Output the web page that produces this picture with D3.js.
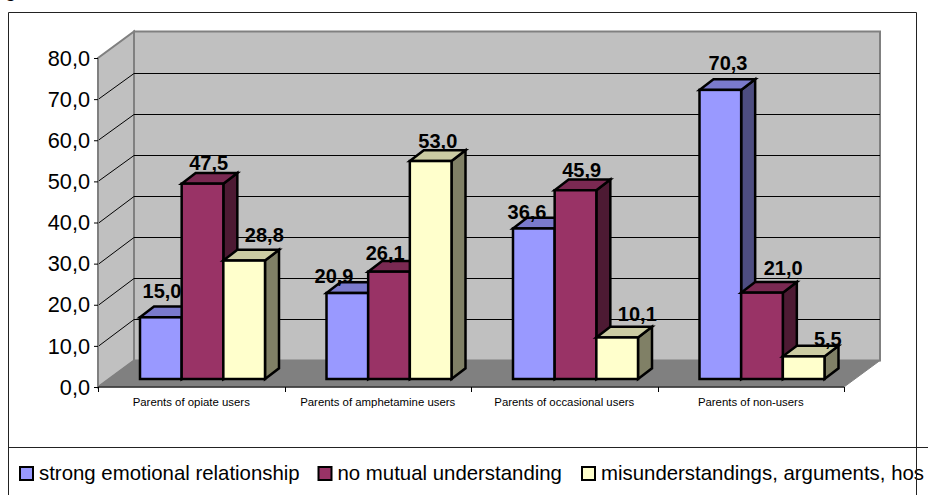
<!DOCTYPE html>
<html><head><meta charset="utf-8">
<script src="https://cdn.jsdelivr.net/npm/d3@7"></script>
<style>html,body{margin:0;background:#fff;overflow:hidden}svg{display:block}text{font-family:"Liberation Sans",Arial,sans-serif;fill:#000}</style>
</head><body><div id="c"></div>
<script>
const categories = ["Parents of opiate users","Parents of amphetamine users","Parents of occasional users","Parents of non-users"];
const seriesNames = ["strong emotional relationship","no mutual understanding","misunderstandings, arguments, hos"];
const strong = [15.0,20.9,36.6,70.3];
const noMutual = [47.5,26.1,45.9,21.0];
const misunderstandings = [28.8,53.0,10.1,5.5];
const yTicks = [0,10,20,30,40,50,60,70,80];
const labelShift = [[-6,-20.5,-14,0.5],[-1,-11,-1,14],[13,0,13,17]];
const labelRise = [[27.3,18,17.5,27.9],[21.7,19.7,21.2,25.6],[26.6,21,24.5,18.4]];

const W=928,H=495;
const svg=d3.select("#c").append("svg").attr("width",W).attr("height",H);
const x0=98,x1=844,yB=387,yT=58,dx=36,dy=-26.5,bdx=14,bdy=-10.7,bFront=-8;
const x=d3.scaleBand().domain(categories).range([x0,x1]);
const y=d3.scaleLinear().domain([0,80]).range([yB,yT]);
const seriesKeys=d3.range(3);
const inner=d3.scaleBand().domain(seriesKeys).range([42,42+125]);
const values=[strong,noMutual,misunderstandings];
const colors=[{f:"#9999ff",t:"#7a7acc",s:"#4d4d80"},{f:"#993366",t:"#7a2952",s:"#4d1a33"},{f:"#ffffcc",t:"#cccca3",s:"#808066"}];
const fmt=v=>v.toFixed(1).replace(".",",");

// fragment of a glyph above the chart frame, as in the reference
svg.append("text").attr("x",5).attr("y",-3.4).attr("font-size",20).text("g");

// walls
const g=svg.append("g");
g.append("path").attr("d",`M${x0},${yB}L${x0},${yT}L${x0+dx},${yT+dy}L${x0+dx},${yB+dy}Z`).attr("fill","#c0c0c0").attr("stroke","#808080").attr("stroke-width",2);
g.append("path").attr("d",`M${x0+dx},${yT+dy}H${x1+dx}V${yB+dy}H${x0+dx}Z`).attr("fill","#c0c0c0").attr("stroke","#808080").attr("stroke-width",2);
g.append("path").attr("d",`M${x0},${yB}L${x0+dx},${yB+dy}H${x1+dx}L${x1},${yB}Z`).attr("fill","#808080").attr("stroke","#808080");
// gridlines
yTicks.filter(t=>t>0&&t<80).forEach(t=>{
  g.append("path").attr("fill","none").attr("stroke","#000").attr("stroke-width",1)
   .attr("d",`M${x0},${Math.round(y(t))+.5}L${x0+dx},${Math.round(y(t)+dy)+.5}H${x1+dx}`);
});
// axes
const ya=d3.axisLeft(y).tickValues(yTicks).tickSize(4).tickFormat(fmt);
const yg=svg.append("g").attr("transform",`translate(${x0},0)`).call(ya);
yg.select(".domain").attr("stroke","#808080").attr("stroke-width",2).attr("d",`M0,${yT}V${yB}`);
yg.selectAll(".tick line").attr("stroke","#000");
yg.selectAll("text").attr("font-size",21.7).attr("font-family",'"Liberation Sans"').attr("x",-8).attr("dy","0.33em");
const xa=d3.axisBottom(x).tickSize(0);
const xg=svg.append("g").attr("transform",`translate(0,${yB})`).call(xa);
xg.select(".domain").attr("stroke","#333").attr("stroke-width",1.5).attr("d",`M${x0},0H${x1}`);
xg.selectAll("text").attr("font-size",11.4).attr("font-family",'"Liberation Sans"').attr("y",19).attr("dy",0).attr("fill","#222");
d3.range(5).forEach(i=>{const px=Math.round(x0+i*x.step())+.5;
  xg.append("line").attr("x1",px).attr("x2",px).attr("y1",0).attr("y2",5).attr("stroke","#000");});

// bars
const y0Bar=y(0)+bFront;
categories.forEach((c,ci)=>{
  seriesKeys.forEach(si=>{
    const v=values[si][ci],col=colors[si];
    const bx=x(c)+inner(si),w=inner.bandwidth(),top=y(v)+bFront;
    const b=svg.append("g").attr("stroke","#000").attr("stroke-width",2.5).attr("stroke-linejoin","miter");
    b.append("path").attr("fill",col.s).attr("d",`M${bx+w},${top}l${bdx},${bdy}V${y0Bar+bdy}l${-bdx},${-bdy}Z`);
    b.append("path").attr("fill",col.t).attr("d",`M${bx},${top}l${bdx},${bdy}H${bx+w+bdx}l${-bdx},${-bdy}Z`);
    b.append("rect").attr("x",bx).attr("y",top).attr("width",w).attr("height",y0Bar-top).attr("fill",col.f);
  });
});
// value labels
categories.forEach((c,ci)=>{
  seriesKeys.forEach(si=>{
    const v=values[si][ci];
    svg.append("text").attr("x",x(c)+inner(si)+28+labelShift[si][ci]).attr("y",y(v)-labelRise[si][ci])
      .attr("text-anchor","middle").attr("font-size",20).attr("font-weight","bold").text(fmt(v));
  });
});

// legend
const lg=svg.append("g");
const lx=[20,318.5,582];
seriesNames.forEach((n,i)=>{
  lg.append("rect").attr("x",lx[i]).attr("y",467).attr("width",13).attr("height",13).attr("fill",colors[i].f).attr("stroke","#000").attr("stroke-width",2);
  lg.append("text").attr("x",lx[i]+19).attr("y",480).attr("font-size",20.4).text(n);
});

// frame, over the legend text
const frame=svg.append("g").attr("stroke","#222").attr("stroke-width",1).attr("fill","none");
frame.append("path").attr("d",`M8.5,${H}V12.5H916.5V${H}`);
frame.append("path").attr("d",`M8,447.5H${W}`);
</script></body></html>
